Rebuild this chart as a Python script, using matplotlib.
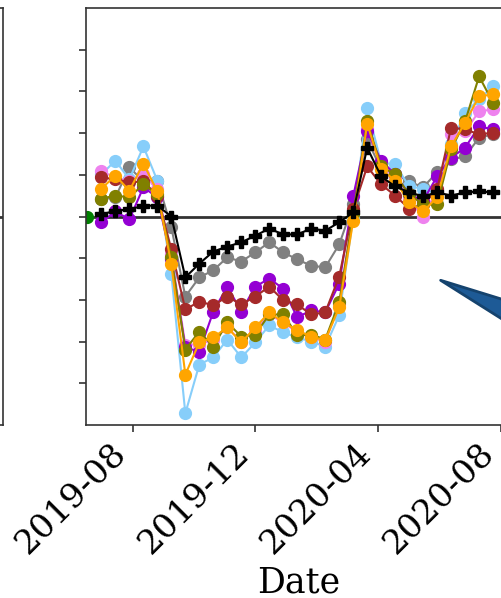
import pandas as pd
import matplotlib
matplotlib.use("Agg")
import matplotlib.pyplot as plt
import matplotlib.dates as mdates

plt.rcParams['font.family'] = ['DejaVu Serif']

# roughly biweekly dates, first one only holds the green baseline point
dates = pd.date_range("2019-06-17", periods=30, freq=pd.Timedelta(days=13.9))

baseline = [0.0]

gray = [4.1, 4.6, 11.8, 8.4, 8.6, -2.6, -19.2, -14.6, -12.9, -9.8, -10.8, -8.6, -6.2, -8.6, -10.3,
        -11.8, -12.2, -6.7, 2.9, 18.5, 11.3, 10.1, 8.4, 7.0, 10.6, 13.7, 14.4, 18.9, 19.7]
lightblue = [10.1, 13.4, 8.9, 16.8, 8.6, -13.9, -47.2, -35.5, -33.8, -29.5, -33.8, -30.2, -26.1, -27.8, -29.0,
             -30.0, -31.2, -23.7, -0.2, 25.9, 12.9, 12.5, 7.2, 6.7, 5.3, 17.3, 24.9, 28.1, 31.2]
pink = [10.8, 9.4, 8.4, 10.1, 6.5, -9.1, -30.7, -30.7, -29.5, -26.6, -30.0, -27.1, -23.5, -25.4, -27.8,
        -29.0, -30.0, -21.1, 1.2, 20.9, 12.0, 9.4, 4.1, -0.2, 6.5, 19.7, 20.4, 25.2, 25.7]
purple = [-1.4, 1.2, -0.7, 7.0, 4.6, -10.3, -31.4, -32.4, -22.8, -16.8, -22.8, -16.8, -14.9, -17.3, -24.2,
          -22.5, -23.0, -16.1, 4.8, 20.4, 13.4, 10.1, 5.3, 3.8, 9.6, 14.1, 16.5, 21.6, 20.9]
maroon = [9.4, 8.9, 8.2, 8.4, 5.0, -7.9, -22.3, -20.4, -21.3, -19.2, -21.1, -19.2, -16.8, -20.1, -21.1,
          -23.5, -23.0, -14.4, 1.7, 12.0, 7.7, 5.0, 1.9, 2.9, 6.5, 21.3, 20.9, 19.7, 20.1]
olive = [4.3, 5.0, 4.6, 7.7, 5.3, -9.8, -31.9, -27.6, -31.2, -25.4, -28.8, -28.3, -23.5, -23.5, -28.5,
         -28.3, -29.5, -20.6, 0.5, 22.8, 12.0, 10.1, 5.3, 2.9, 2.9, 16.1, 22.8, 33.6, 27.3]
orange = [6.7, 9.8, 6.2, 12.7, 6.0, -11.5, -37.9, -30.2, -29.0, -26.6, -30.2, -26.6, -23.0, -25.4, -27.3,
          -28.8, -29.7, -21.8, -1.0, 22.3, 11.3, 8.6, 3.4, 1.2, 4.6, 16.8, 22.5, 28.8, 29.3]
mean_line = [0.5, 1.4, 1.7, 2.6, 2.6, 0.0, -14.6, -11.3, -8.4, -7.2, -6.2, -4.6, -2.9, -4.3, -4.3,
             -2.9, -3.4, -1.4, 1.0, 16.5, 9.6, 7.2, 5.8, 4.8, 5.8, 5.0, 5.8, 6.0, 5.8]

series = [(gray, "gray"), (lightblue, "lightskyblue"), (pink, "violet"), (purple, "darkviolet"),
          (maroon, "brown"), (olive, "olive"), (orange, "orange")]

arrow_tip = (pd.Timestamp("2020-06-02"), -15.3)

fig = plt.figure(figsize=(5.02, 5.98), dpi=100)
bottom = 1 - 425 / 598
height = 417 / 598

# edge of the neighbouring panel
ax0 = fig.add_axes([-0.5, bottom, 0.5 + 2.5 / 502, height])
ax0.set_xlim(0, 1)
ax0.set_ylim(-50, 50)
ax0.axhline(0, color="#333333", lw=2)
ax0.set_xticks([])
ax0.set_yticks([])
for s in ax0.spines.values():
    s.set_color("#333333")
    s.set_linewidth(1.2)

ax = fig.add_axes([86 / 502, bottom, 426 / 502, height])
ax.axhline(0, color="#333333", lw=2, zorder=1)

for vals, col in series:
    ax.plot(dates[1:], vals, color=col, marker="o", markersize=8.5, lw=1.5)
ax.plot(dates[1:], mean_line, color="black", marker="P", markersize=9, lw=1.5)
ax.plot(dates[:1], baseline, color="green", marker="o", markersize=8.5, lw=0)

ax.annotate("", xy=arrow_tip, xycoords="data", xytext=(200, -92), textcoords="offset pixels",
            arrowprops=dict(arrowstyle="wedge,tail_width=2.1", mutation_scale=20,
                            fc="#1d5a96", ec="#15436e", lw=2, shrinkA=0, shrinkB=0),
            annotation_clip=False)

ax.set_ylim(-50, 50)
ax.set_yticks([-40, -30, -20, -10, 0, 10, 20, 30, 40])
ax.set_yticklabels([])
ax.set_xlim(pd.Timestamp("2019-06-15 14:00"), pd.Timestamp("2020-08-11 22:00"))
ax.xaxis.set_major_locator(mdates.MonthLocator(bymonth=[4, 8, 12]))
ax.xaxis.set_major_formatter(mdates.DateFormatter("%Y-%m"))
plt.setp(ax.get_xticklabels(), rotation=45, ha="right", fontsize=24.5)
ax.tick_params(length=5, width=1.2, color="#333333")
for s in ax.spines.values():
    s.set_color("#333333")
    s.set_linewidth(1.2)

ax.set_xlabel("Date", fontsize=25)

plt.savefig("out.png", dpi=100)
